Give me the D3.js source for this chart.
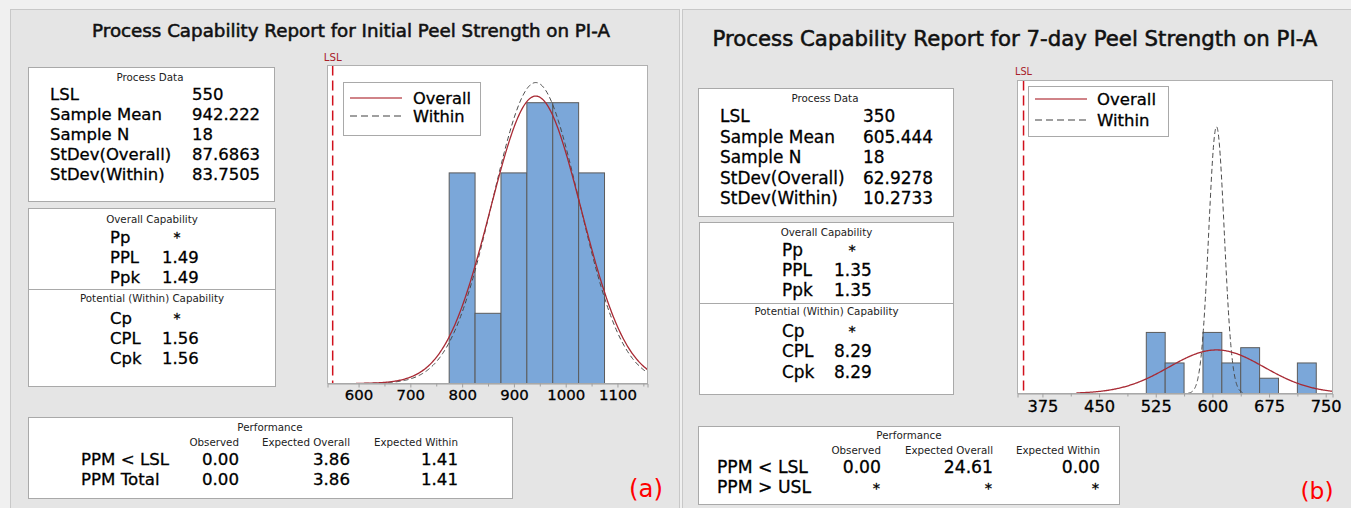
<!DOCTYPE html>
<html><head><meta charset="utf-8">
<script src="https://cdn.jsdelivr.net/npm/d3@7"></script>
<style>
body{margin:0;background:#f0f0f0;}
svg{display:block;}
text{font-family:"DejaVu Sans",sans-serif;}
</style>
</head><body>
<svg id="c" width="1351" height="508"></svg>
<script>
// ---------------- DATA ----------------
const processLabels = ["LSL","Sample Mean","Sample N","StDev(Overall)","StDev(Within)"];
const overallLabels = ["Pp","PPL","Ppk"];
const withinLabels = ["Cp","CPL","Cpk"];
const perfCols = ["Observed","Expected Overall","Expected Within"];

// Panel (a)
const titleA = "Process Capability Report for Initial Peel Strength on PI-A";
const lslA = 550, meanA = 942.222, nA = 18, sdOverallA = 87.6863, sdWithinA = 83.7505;
const binEdgesA = [775,825,875,925,975,1025,1075];
const binCountsA = [3,1,3,4,4,3];
const xTicksA = [600,700,800,900,1000,1100];
const xMinorA = [650,750,850,950,1050,1150];
const xDomainA = [540,1158];
const yMaxA = 4.53;
const spanOverallA = [595,1160];
const spanWithinA = [610,1160];
const processValuesA = ["550","942.222","18","87.6863","83.7505"];
const overallValuesA = ["*","1.49","1.49"];
const withinValuesA = ["*","1.56","1.56"];
const perfRowsA = ["PPM < LSL","PPM Total"];
const perfValuesA = [["0.00","3.86","1.41"],["0.00","3.86","1.41"]];
const tagA = "(a)";

// Panel (b)
const titleB = "Process Capability Report for 7-day Peel Strength on PI-A";
const lslB = 350, meanB = 605.444, nB = 18, sdOverallB = 62.9278, sdWithinB = 10.2733;
const binEdgesB = [512.5,537.5,562.5,587.5,612.5,637.5,662.5,687.5,712.5,737.5];
const binCountsB = [4,2,0,4,2,3,1,0,2];
const xTicksB = [375,450,525,600,675,750];
const xMinorB = [412.5,487.5,562.5,637.5,712.5];
const xDomainB = [342,759];
const yMaxB = 20.5;
const spanOverallB = [420,762];
const spanWithinB = [568,642];
const processValuesB = ["350","605.444","18","62.9278","10.2733"];
const overallValuesB = ["*","1.35","1.35"];
const withinValuesB = ["*","8.29","8.29"];
const perfRowsB = ["PPM < LSL","PPM > USL"];
const perfValuesB = [["0.00","24.61","0.00"],["*","*","*"]];
const tagB = "(b)";

// ---------------- LAYOUT ----------------
const LA = {
  panel:[10.5,9.5,669,520],
  title:{cx:351, cy:30, w:518},
  pd:{box:[28.5,67.5,246,134], hx:150, hy:77, y0:94, dy:20.2, lx:50, vx:192},
  cap:{box:[28.5,208.5,247,178], div:289.5, h1:219, r1:[237,257,277], h2:298, r2:[318,338,358], lx:110, vx:162, star:177},
  plot:{x0:327.5, y0:65.5, x1:647.5, y1:383.5, pad:2},
  legend:{box:[343.5,82.5,137,53], lx0:350, lx1:402, y:[98,116], tx:413},
  lslY:57,
  perf:{box:[28.5,417.5,484,81], hx:270, hy:427, cy:442, cols:[239,350,458], rows:[459,479], lx:81},
  tag:{cx:646, cy:488},
  sz:{pd:112, hdr:67, tick:38, leg:58, lsl:18, perfRow:88, tag:34}
};
const LB = {
  panel:[682.5,9.5,680,520],
  title:{cx:1015, cy:38, w:605},
  pd:{box:[698.5,88.5,255,128], hx:825, hy:98, y0:116, dy:20.5, lx:720, vx:863},
  cap:{box:[699.5,222.5,254,172], div:303.5, h1:232, r1:[250,270,290], h2:311, r2:[331,351,372], lx:782, vx:834, star:852},
  plot:{x0:1017.5, y0:80.5, x1:1332.5, y1:393.5, pad:3},
  legend:{box:[1028.5,86.5,140,50], lx0:1035, lx1:1087, y:[99,120], tx:1097},
  lslY:71,
  perf:{box:[698.5,426.5,421,78], hx:909, hy:435, cy:450, cols:[881,993,1100], rows:[467,487], lx:717},
  tag:{cx:1317, cy:490},
  sz:{pd:115, hdr:67, tick:31, leg:59, lsl:17, perfRow:91, tag:33}
};

const FONT_BODY = '"DejaVu Sans",sans-serif';
const FONT_SMALL = '"Noto Sans",sans-serif';

// ---------------- RENDER ----------------
const svg = d3.select("#c");
svg.append("rect").attr("width",1351).attr("height",508).attr("fill","#f0f0f0");

function fitSize(str, target, family, weight){
  const t = svg.append("text").attr("font-size",100).attr("font-family",family||FONT_BODY)
    .attr("font-weight",weight||400).text(str);
  const w = t.node().getComputedTextLength();
  t.remove();
  return 100*target/w;
}
function txt(g, x, y, s, size, anchor, opts){
  opts = opts||{};
  const fill = opts.fill||"#000";
  const t = g.append("text").attr("x",x).attr("y",y).attr("dominant-baseline","central")
    .attr("text-anchor",anchor||"start").attr("font-size",size)
    .attr("font-family",opts.family||FONT_BODY)
    .attr("font-weight",opts.weight||400).attr("fill",fill).text(s);
  if(opts.stroke) t.attr("stroke",fill).attr("stroke-width",opts.stroke);
  return t;
}
function box(g, b){
  g.append("rect").attr("x",b[0]).attr("y",b[1]).attr("width",b[2]).attr("height",b[3])
    .attr("fill","#fff").attr("stroke","#a9a9a9").attr("stroke-width",1);
}
function pdf(x, m, s){ return Math.exp(-0.5*((x-m)/s)**2)/(s*Math.sqrt(2*Math.PI)); }

let clipId = 0;
function drawPanel(D, L){
  const g = svg.append("g");
  g.append("rect").attr("x",L.panel[0]).attr("y",L.panel[1]).attr("width",L.panel[2]).attr("height",L.panel[3])
    .attr("fill","#e5e5e5").attr("stroke","#c8c8c8");

  // title
  const tfs = fitSize(D.title, L.title.w, FONT_SMALL, 400);
  txt(g, L.title.cx, L.title.cy, D.title, tfs, "middle", {fill:"#111", family:FONT_SMALL, stroke:0.55});

  const rowFs = fitSize("Sample Mean", L.sz.pd);
  const hdrFs = fitSize("Process Data", L.sz.hdr, FONT_SMALL);
  const hdr = {fill:"#222", family:FONT_SMALL};
  const body = {stroke:0.3};

  // process data
  box(g, L.pd.box);
  txt(g, L.pd.hx, L.pd.hy, "Process Data", hdrFs, "middle", hdr);
  processLabels.forEach((lab,i)=>{
    const y = L.pd.y0 + i*L.pd.dy;
    txt(g, L.pd.lx, y, lab, rowFs, "start", body);
    txt(g, L.pd.vx, y, D.processValues[i], rowFs, "start", body);
  });

  // capability
  box(g, L.cap.box);
  g.append("line").attr("x1",L.cap.box[0]).attr("x2",L.cap.box[0]+L.cap.box[2])
    .attr("y1",L.cap.div).attr("y2",L.cap.div).attr("stroke","#a9a9a9");
  const capCx = L.cap.box[0]+L.cap.box[2]/2;
  txt(g, capCx, L.cap.h1, "Overall Capability", hdrFs, "middle", hdr);
  txt(g, capCx, L.cap.h2, "Potential (Within) Capability", hdrFs, "middle", hdr);
  const capRow = (labels, values, ys)=>{
    labels.forEach((lab,i)=>{
      txt(g, L.cap.lx, ys[i], lab, rowFs, "start", body);
      if(values[i]==="*") txt(g, L.cap.star, ys[i], "*", rowFs*0.85, "middle", body);
      else txt(g, L.cap.vx, ys[i], values[i], rowFs, "start", body);
    });
  };
  capRow(overallLabels, D.overallValues, L.cap.r1);
  capRow(withinLabels, D.withinValues, L.cap.r2);

  // performance
  box(g, L.perf.box);
  const perfFs = fitSize("PPM < LSL", L.sz.perfRow);
  txt(g, L.perf.hx, L.perf.hy, "Performance", hdrFs, "middle", hdr);
  perfCols.forEach((c,j)=> txt(g, L.perf.cols[j], L.perf.cy, c, hdrFs, "end", hdr));
  D.perfRows.forEach((r,i)=>{
    txt(g, L.perf.lx, L.perf.rows[i], r, perfFs, "start", body);
    D.perfValues[i].forEach((v,j)=> txt(g, L.perf.cols[j]+(v==="*"?-1:0), L.perf.rows[i], v, v==="*"?perfFs*0.85:perfFs, "end", body));
  });

  // tag
  txt(g, L.tag.cx, L.tag.cy, D.tag, fitSize(D.tag, L.sz.tag, FONT_SMALL), "middle", {fill:"#ff0000", family:FONT_SMALL});

  // plot
  const P = L.plot;
  const x = d3.scaleLinear().domain(D.xDomain).range([P.x0, P.x1]);
  const y = d3.scaleLinear().domain([0, D.yMax]).range([P.y1, P.y0]);
  g.append("rect").attr("x",P.x0).attr("y",P.y0).attr("width",P.x1-P.x0).attr("height",P.y1-P.y0).attr("fill","#fff");

  const id = "clip"+(clipId++);
  g.append("clipPath").attr("id",id).append("rect").attr("x",P.x0).attr("y",P.y0).attr("width",P.x1-P.x0).attr("height",P.y1-P.y0);
  const pg = g.append("g").attr("clip-path",`url(#${id})`);

  const bins = D.binCounts.map((c,i)=>({x0:D.binEdges[i], x1:D.binEdges[i+1], c}));
  pg.selectAll("rect.bar").data(bins.filter(b=>b.c>0)).join("rect").attr("class","bar")
    .attr("x",b=>x(b.x0)).attr("width",b=>x(b.x1)-x(b.x0))
    .attr("y",b=>y(b.c)).attr("height",b=>y(0)-y(b.c))
    .attr("fill","#7ba7d9").attr("stroke","#5b5b5b").attr("stroke-width",1);

  const bw = D.binEdges[1]-D.binEdges[0];
  const curve = (sd, span)=>{
    const pts = d3.range(0,301).map(k=>{ const xv = span[0]+(span[1]-span[0])*k/300; return [xv, D.n*bw*pdf(xv, D.mean, sd)]; });
    return d3.line().x(p=>x(p[0])).y(p=>y(p[1]))(pts);
  };
  pg.append("path").attr("d",curve(D.sdWithin, D.spanWithin)).attr("fill","none")
    .attr("stroke","#4a4a4a").attr("stroke-width",1).attr("stroke-dasharray","5,3");
  pg.append("path").attr("d",curve(D.sdOverall, D.spanOverall)).attr("fill","none")
    .attr("stroke","#a82a34").attr("stroke-width",1.3);

  // LSL
  pg.append("line").attr("x1",x(D.lsl)).attr("x2",x(D.lsl)).attr("y1",P.y0).attr("y2",P.y1)
    .attr("stroke","#d0101c").attr("stroke-width",1.5).attr("stroke-dasharray","10,5");
  txt(g, x(D.lsl), L.lslY, "LSL", fitSize("LSL", L.sz.lsl, FONT_SMALL), "middle", {fill:"#a8202a", family:FONT_SMALL});

  // legend
  const lg = L.legend;
  g.append("rect").attr("x",lg.box[0]).attr("y",lg.box[1]).attr("width",lg.box[2]).attr("height",lg.box[3])
    .attr("fill","#fff").attr("stroke","#a9a9a9");
  const legFs = fitSize("Overall", L.sz.leg);
  g.append("line").attr("x1",lg.lx0).attr("x2",lg.lx1).attr("y1",lg.y[0]).attr("y2",lg.y[0])
    .attr("stroke","#c05a60").attr("stroke-width",1.5);
  g.append("line").attr("x1",lg.lx0).attr("x2",lg.lx1).attr("y1",lg.y[1]).attr("y2",lg.y[1])
    .attr("stroke","#808080").attr("stroke-width",1.3).attr("stroke-dasharray","7,4");
  txt(g, lg.tx, lg.y[0], "Overall", legFs, "start", body);
  txt(g, lg.tx, lg.y[1], "Within", legFs, "start", body);

  // frame
  g.append("rect").attr("x",P.x0).attr("y",P.y0).attr("width",P.x1-P.x0).attr("height",P.y1-P.y0)
    .attr("fill","none").attr("stroke","#b0b0b0");

  // axis
  const tickFs = fitSize(String(D.xTicks[D.xTicks.length-2]), L.sz.tick);
  const ax = g.append("g").attr("transform",`translate(0,${P.y1})`)
    .call(d3.axisBottom(x).tickValues(D.xTicks).tickSize(4).tickPadding(P.pad).tickFormat(d3.format("d")));
  ax.select(".domain").attr("stroke","#a0a0a0");
  ax.selectAll(".tick line").attr("stroke","#a0a0a0");
  ax.selectAll(".tick text").attr("font-size",tickFs).attr("fill","#000").attr("font-family",FONT_BODY)
    .attr("stroke","#000").attr("stroke-width",0.3);
  const mx = g.append("g").attr("transform",`translate(0,${P.y1})`)
    .call(d3.axisBottom(x).tickValues(D.xMinor).tickSize(3).tickFormat(""));
  mx.select(".domain").remove();
  mx.selectAll(".tick line").attr("stroke","#a0a0a0");
}

drawPanel({title:titleA, lsl:lslA, mean:meanA, n:nA, sdOverall:sdOverallA, sdWithin:sdWithinA,
  binEdges:binEdgesA, binCounts:binCountsA, xTicks:xTicksA, xMinor:xMinorA, xDomain:xDomainA, yMax:yMaxA,
  spanOverall:spanOverallA, spanWithin:spanWithinA, processValues:processValuesA,
  overallValues:overallValuesA, withinValues:withinValuesA, perfRows:perfRowsA, perfValues:perfValuesA, tag:tagA}, LA);
drawPanel({title:titleB, lsl:lslB, mean:meanB, n:nB, sdOverall:sdOverallB, sdWithin:sdWithinB,
  binEdges:binEdgesB, binCounts:binCountsB, xTicks:xTicksB, xMinor:xMinorB, xDomain:xDomainB, yMax:yMaxB,
  spanOverall:spanOverallB, spanWithin:spanWithinB, processValues:processValuesB,
  overallValues:overallValuesB, withinValues:withinValuesB, perfRows:perfRowsB, perfValues:perfValuesB, tag:tagB}, LB);
</script>
</body></html>
